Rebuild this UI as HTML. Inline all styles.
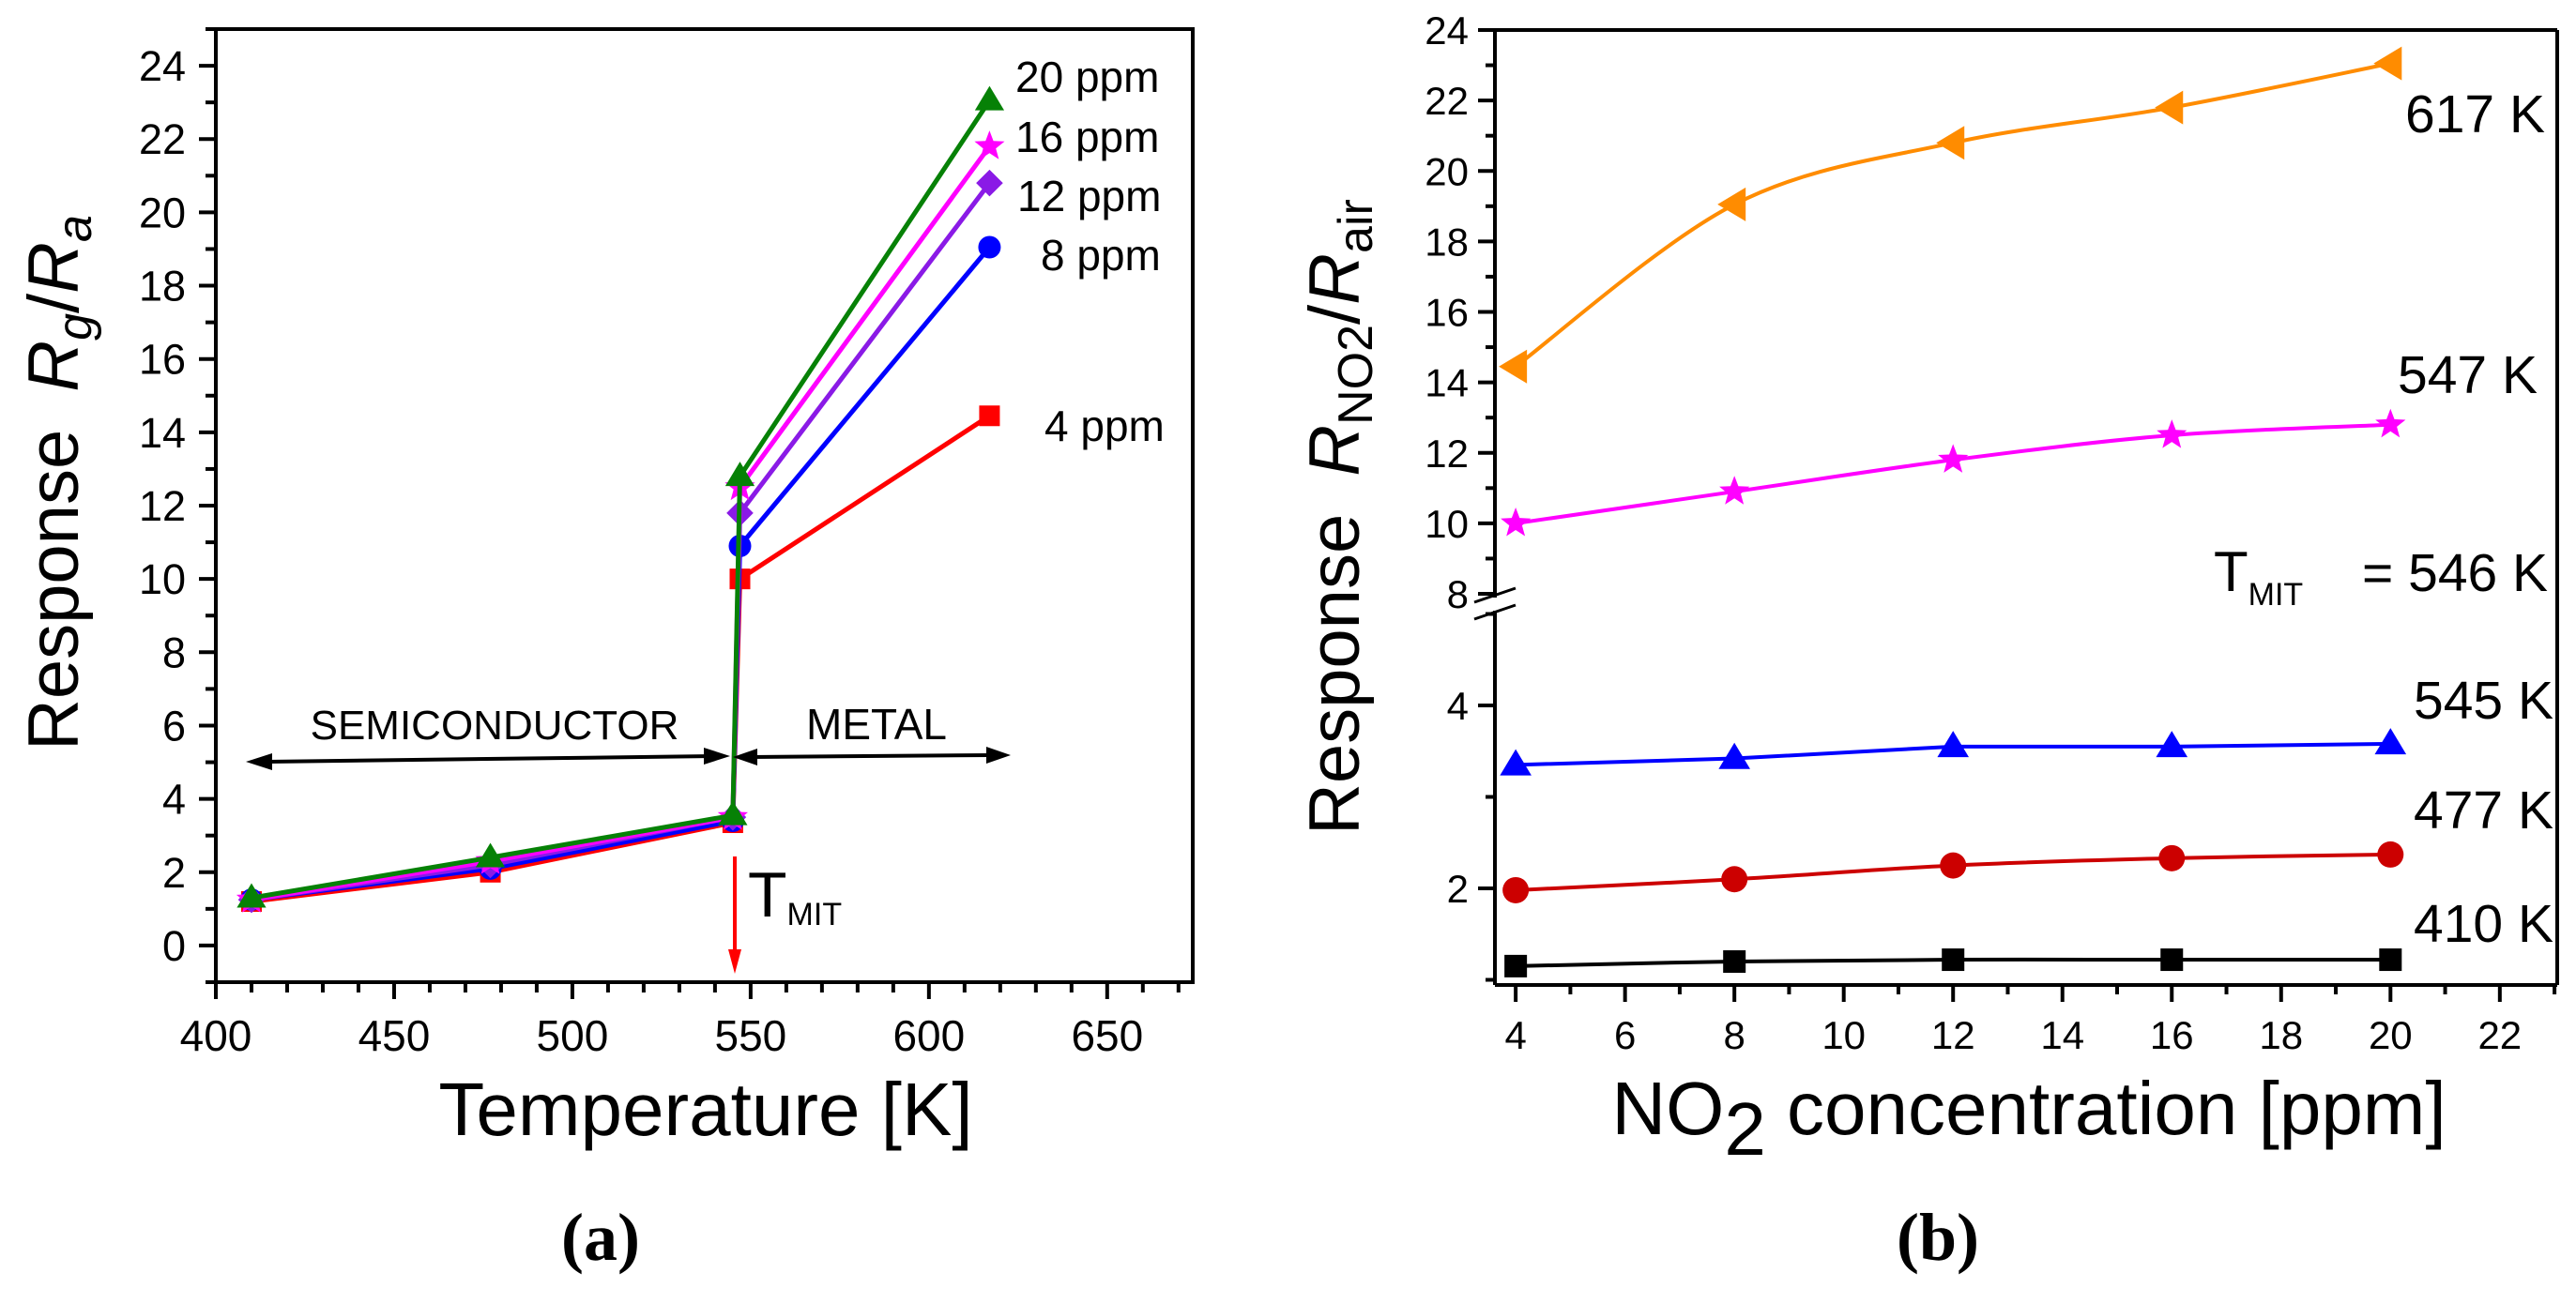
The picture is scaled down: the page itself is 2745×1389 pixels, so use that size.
<!DOCTYPE html>
<html><head><meta charset="utf-8"><style>
html,body{margin:0;padding:0;background:#fff;}
svg{display:block;font-family:"Liberation Sans",sans-serif;}
</style></head><body>
<svg id="fig" width="2745" height="1389" viewBox="0 0 2745 1389" xmlns="http://www.w3.org/2000/svg">
<g id="pa"></g>
<g id="pb"></g>
</svg>
<script>
// ---------- Panel (a) data ----------
const tempsA = [410, 477, 545, 547, 617];
const ppm4 = [1.2, 2.0, 3.35, 10.0, 14.45];
const ppm8 = [1.25, 2.1, 3.4, 10.9, 19.05];
const ppm12 = [1.25, 2.2, 3.5, 11.8, 20.8];
const ppm16 = [1.25, 2.3, 3.5, 12.5, 21.8];
const ppm20 = [1.3, 2.4, 3.55, 12.8, 23.05];
const xTicksA = [400, 450, 500, 550, 600, 650];
const yTicksA = [0, 2, 4, 6, 8, 10, 12, 14, 16, 18, 20, 22, 24];
// ---------- Panel (b) data ----------
const concB = [4, 8, 12, 16, 20];
const k617 = [14.45, 19.05, 20.8, 21.8, 23.05];
const k547 = [10.0, 10.9, 11.8, 12.5, 12.8];
const k545 = [3.35, 3.42, 3.55, 3.55, 3.58];
const k477 = [1.98, 2.1, 2.25, 2.33, 2.37];
const k410 = [1.15, 1.2, 1.22, 1.22, 1.22];
const xTicksB = [4, 6, 8, 10, 12, 14, 16, 18, 20, 22];
const yTicksBUpper = [8, 10, 12, 14, 16, 18, 20, 22, 24];
const yTicksBLower = [2, 4];

const NS = "http://www.w3.org/2000/svg";
function mk(parent, tag, attrs, text) {
  const e = document.createElementNS(NS, tag);
  for (const k in attrs) e.setAttribute(k, attrs[k]);
  if (text !== undefined) e.textContent = text;
  parent.appendChild(e);
  return e;
}
function marker(g, type, x, y, s, color) {
  let e;
  if (type === 'square') e = mk(g, 'rect', {x: x - s, y: y - s, width: 2 * s, height: 2 * s, fill: color});
  else if (type === 'circle') e = mk(g, 'circle', {cx: x, cy: y, r: s, fill: color});
  else if (type === 'diamond') e = mk(g, 'polygon', {points: `${x},${y - s * 1.3} ${x + s * 1.3},${y} ${x},${y + s * 1.3} ${x - s * 1.3},${y}`, fill: color});
  else if (type === 'triangle') e = mk(g, 'polygon', {points: `${x},${y - s * 1.2} ${x + s * 1.2},${y + s * 0.8} ${x - s * 1.2},${y + s * 0.8}`, fill: color});
  else if (type === 'ltriangle') e = mk(g, 'polygon', {points: `${x - s * 1.2},${y} ${x + s * 0.8},${y - s * 1.2} ${x + s * 0.8},${y + s * 1.2}`, fill: color});
  else if (type === 'star') {
    let p = [];
    for (let i = 0; i < 10; i++) {
      const r = i % 2 === 0 ? s * 1.3 : s * 0.55;
      const a = -Math.PI / 2 + i * Math.PI / 5;
      p.push((x + r * Math.cos(a)).toFixed(1) + ',' + (y + r * Math.sin(a)).toFixed(1));
    }
    e = mk(g, 'polygon', {points: p.join(' '), fill: color});
  }
  
  
  return e;
}
function smoothPath(pts) {
  let d = `M${pts[0][0]},${pts[0][1]}`;
  for (let i = 0; i < pts.length - 1; i++) {
    const p0 = pts[i - 1] || pts[i], p1 = pts[i], p2 = pts[i + 1], p3 = pts[i + 2] || p2;
    const c1 = [p1[0] + (p2[0] - p0[0]) / 6, p1[1] + (p2[1] - p0[1]) / 6];
    const c2 = [p2[0] - (p3[0] - p1[0]) / 6, p2[1] - (p3[1] - p1[1]) / 6];
    d += ` C${c1[0]},${c1[1]} ${c2[0]},${c2[1]} ${p2[0]},${p2[1]}`;
  }
  return d;
}

// ================= Panel A =================
(function () {
  const g = document.getElementById('pa');
  const L = 230, R = 1271, T = 31, B = 1047;
  const xMin = 400, xMax = 674, yMin = -1, yMax = 25;
  const xs = v => L + (v - xMin) / (xMax - xMin) * (R - L);
  const ys = v => B - (v - yMin) / (yMax - yMin) * (B - T);

  const ax = mk(g, 'g', {});
  
  
  mk(ax, 'rect', {x: L, y: T, width: R - L, height: B - T, fill: 'none', stroke: '#000', 'stroke-width': 4});
  for (let v = 400; v <= 670; v += 10) {
    const major = v % 50 === 0;
    mk(ax, 'line', {x1: xs(v), x2: xs(v), y1: B, y2: B + (major ? 18 : 11), stroke: '#000', 'stroke-width': 4});
  }
  for (const v of xTicksA) {
    const t = mk(ax, 'text', {x: xs(v), y: B + 73, 'font-size': 46, 'text-anchor': 'middle'}, String(v));
    
    
  }
  for (let v = -1; v <= 25; v += 1) {
    const major = v % 2 === 0;
    mk(ax, 'line', {x1: L, x2: L - (major ? 18 : 11), y1: ys(v), y2: ys(v), stroke: '#000', 'stroke-width': 4});
  }
  for (const v of yTicksA) {
    const t = mk(ax, 'text', {x: L - 32, y: ys(v) + 16, 'font-size': 45, 'text-anchor': 'end'}, String(v));
    
    
  }
  const xt = mk(g, 'text', {x: 752, y: 1210, 'font-size': 80, 'text-anchor': 'middle'}, 'Temperature [K]');
  
  
  const yt = mk(g, 'text', {transform: 'translate(83,800) rotate(-90)', 'font-size': 76}, '');
  
  
  yt.innerHTML = 'Response<tspan dx="40" font-style="italic">R</tspan><tspan font-style="italic" font-size="52" dy="14">g</tspan><tspan dy="-14">/</tspan><tspan font-style="italic">R</tspan><tspan font-style="italic" font-size="52" dy="14">a</tspan>';

  const series = [
    {name: '4-ppm', vals: ppm4, color: '#ff0000', m: 'square', s: 11},
    {name: '8-ppm', vals: ppm8, color: '#0000ff', m: 'circle', s: 12},
    {name: '12-ppm', vals: ppm12, color: '#8a1ae6', m: 'diamond', s: 11},
    {name: '16-ppm', vals: ppm16, color: '#ff00ff', m: 'star', s: 13},
    {name: '20-ppm', vals: ppm20, color: '#068106', m: 'triangle', s: 13}
  ];
  for (const s of series) {
    const sg = mk(g, 'g', {});
    
    
    const pts = tempsA.map((t, i) => [xs(t), ys(s.vals[i])]);
    const l = mk(sg, 'polyline', {points: pts.map(p => p.join(',')).join(' '), fill: 'none', stroke: s.color, 'stroke-width': 5});
    
    
    pts.forEach(p => marker(sg, s.m, p[0], p[1], s.s, s.color));
  }
  const legend = [['20 ppm', 1082, 98], ['16 ppm', 1082, 162], ['12 ppm', 1084, 225], ['8 ppm', 1109, 288], ['4 ppm', 1113, 470]];
  for (const lg of legend) {
    const t = mk(g, 'text', {x: lg[1], y: lg[2], 'font-size': 46}, lg[0]);
    
    
  }
  const ann = mk(g, 'g', {});
  
  
  mk(ann, 'line', {x1: 285, y1: 812, x2: 760, y2: 806, stroke: '#000', 'stroke-width': 4});
  mk(ann, 'polygon', {points: '262,812 290,803 290,821', fill: '#000'});
  mk(ann, 'polygon', {points: '778,806 750,797 750,815', fill: '#000'});
  mk(ann, 'line', {x1: 800, y1: 807, x2: 1055, y2: 805, stroke: '#000', 'stroke-width': 4});
  mk(ann, 'polygon', {points: '781,807 807,798 807,816', fill: '#000'});
  mk(ann, 'polygon', {points: '1077,805 1051,796 1051,814', fill: '#000'});
  const sc = mk(ann, 'text', {x: 527, y: 788, 'font-size': 44, 'text-anchor': 'middle'}, 'SEMICONDUCTOR');
  
  
  const me = mk(ann, 'text', {x: 934, y: 788, 'font-size': 46, 'text-anchor': 'middle'}, 'METAL');
  
  
  mk(ann, 'line', {x1: 783, y1: 913, x2: 783, y2: 1015, stroke: '#ff0000', 'stroke-width': 4});
  mk(ann, 'polygon', {points: '776,1012 790,1012 783,1038', fill: '#ff0000'});
  const tm = mk(ann, 'text', {x: 797, y: 977, 'font-size': 68}, '');
  
  
  tm.innerHTML = 'T<tspan font-size="34" dy="9">MIT</tspan>';
  const lab = mk(g, 'text', {x: 640, y: 1343, 'font-size': 72, 'font-weight': 'bold', 'text-anchor': 'middle', 'font-family': 'Liberation Serif, serif'}, '(a)');
  
  
})();

// ================= Panel B =================
(function () {
  const g = document.getElementById('pb');
  const L = 1593, R = 2725, T = 32, B = 1050;
  const xMin = 3.62, xMax = 23.05;
  const xs = v => L + (v - xMin) / (xMax - xMin) * (R - L);
  const ys = v => v >= 6 ? 633 - (v - 8) / 16 * (633 - 32) : 752 - (v - 4) * 97.5;

  const ax = mk(g, 'g', {});
  
  
  mk(ax, 'line', {x1: L, y1: T, x2: R, y2: T, stroke: '#000', 'stroke-width': 4});
  mk(ax, 'line', {x1: L, y1: B, x2: R, y2: B, stroke: '#000', 'stroke-width': 4});
  mk(ax, 'line', {x1: R, y1: T, x2: R, y2: B, stroke: '#000', 'stroke-width': 4});
  mk(ax, 'line', {x1: L, y1: T, x2: L, y2: 637, stroke: '#000', 'stroke-width': 4});
  mk(ax, 'line', {x1: L, y1: 651, x2: L, y2: B, stroke: '#000', 'stroke-width': 4});
  const br = mk(ax, 'g', {});
  
  
  mk(br, 'line', {x1: 1571, y1: 642, x2: 1615, y2: 627, stroke: '#000', 'stroke-width': 3});
  mk(br, 'line', {x1: 1571, y1: 660, x2: 1615, y2: 645, stroke: '#000', 'stroke-width': 3});
  for (let v = 4; v <= 23; v += 1) {
    const major = v % 2 === 0;
    mk(ax, 'line', {x1: xs(v), x2: xs(v), y1: B, y2: B + (major ? 18 : 10), stroke: '#000', 'stroke-width': 4});
  }
  for (const v of xTicksB) {
    const t = mk(ax, 'text', {x: xs(v), y: B + 68, 'font-size': 42, 'text-anchor': 'middle'}, String(v));
    
    
  }
  for (let v = 8; v <= 24; v += 1) {
    const major = v % 2 === 0;
    mk(ax, 'line', {x1: L, x2: L - (major ? 18 : 10), y1: ys(v), y2: ys(v), stroke: '#000', 'stroke-width': 4});
  }
  for (let v = 1; v <= 5; v += 1) {
    const major = v % 2 === 0;
    mk(ax, 'line', {x1: L, x2: L - (major ? 18 : 10), y1: ys(v), y2: ys(v), stroke: '#000', 'stroke-width': 4});
  }
  for (const v of yTicksBUpper.concat(yTicksBLower)) {
    const t = mk(ax, 'text', {x: L - 28, y: ys(v) + 15, 'font-size': 42, 'text-anchor': 'end'}, String(v));
    
    
  }
  const xt = mk(g, 'text', {x: 2162, y: 1209, 'font-size': 80, 'text-anchor': 'middle'}, '');
  
  
  xt.innerHTML = 'NO<tspan dy="22">2</tspan><tspan dy="-22"> concentration [ppm]</tspan>';
  const yt = mk(g, 'text', {transform: 'translate(1448,890) rotate(-90)', 'font-size': 76}, '');
  
  
  yt.innerHTML = 'Response<tspan dx="40" font-style="italic">R</tspan><tspan font-size="52" dy="14">NO2</tspan><tspan dy="-14">/</tspan><tspan font-style="italic">R</tspan><tspan font-size="52" dy="14">air</tspan>';

  const series = [
    {name: '617K', vals: k617, color: '#ff8c00', m: 'ltriangle', s: 15, smooth: true},
    {name: '547K', vals: k547, color: '#ff00ff', m: 'star', s: 13, smooth: true},
    {name: '545K', vals: k545, color: '#0000ff', m: 'triangle', s: 14, smooth: false},
    {name: '477K', vals: k477, color: '#cc0000', m: 'circle', s: 14, smooth: true},
    {name: '410K', vals: k410, color: '#000000', m: 'square', s: 12, smooth: true}
  ];
  for (const s of series) {
    const sg = mk(g, 'g', {});
    
    
    const pts = concB.map((c, i) => [xs(c), ys(s.vals[i])]);
    const d = s.smooth ? smoothPath(pts) : 'M' + pts.map(p => p.join(',')).join(' L');
    const l = mk(sg, 'path', {d: d, fill: 'none', stroke: s.color, 'stroke-width': 4});
    
    
    pts.forEach(p => marker(sg, s.m, p[0], p[1], s.s, s.color));
  }
  const labels = [['617 K', 2563, 141], ['547 K', 2555, 419], ['545 K', 2572, 766], ['477 K', 2572, 883], ['410 K', 2572, 1004]];
  for (const lb of labels) {
    const t = mk(g, 'text', {x: lb[1], y: lb[2], 'font-size': 57}, lb[0]);
    
    
  }
  const tm = mk(g, 'text', {x: 2359, y: 630, 'font-size': 60}, '');
  
  
  tm.innerHTML = 'T<tspan font-size="34" dy="15">MIT</tspan><tspan x="2517" dy="-15" font-size="57">= 546 K</tspan>';
  const lab = mk(g, 'text', {x: 2065, y: 1343, 'font-size': 72, 'font-weight': 'bold', 'text-anchor': 'middle', 'font-family': 'Liberation Serif, serif'}, '(b)');
  
  
})();
</script>
</body></html>
